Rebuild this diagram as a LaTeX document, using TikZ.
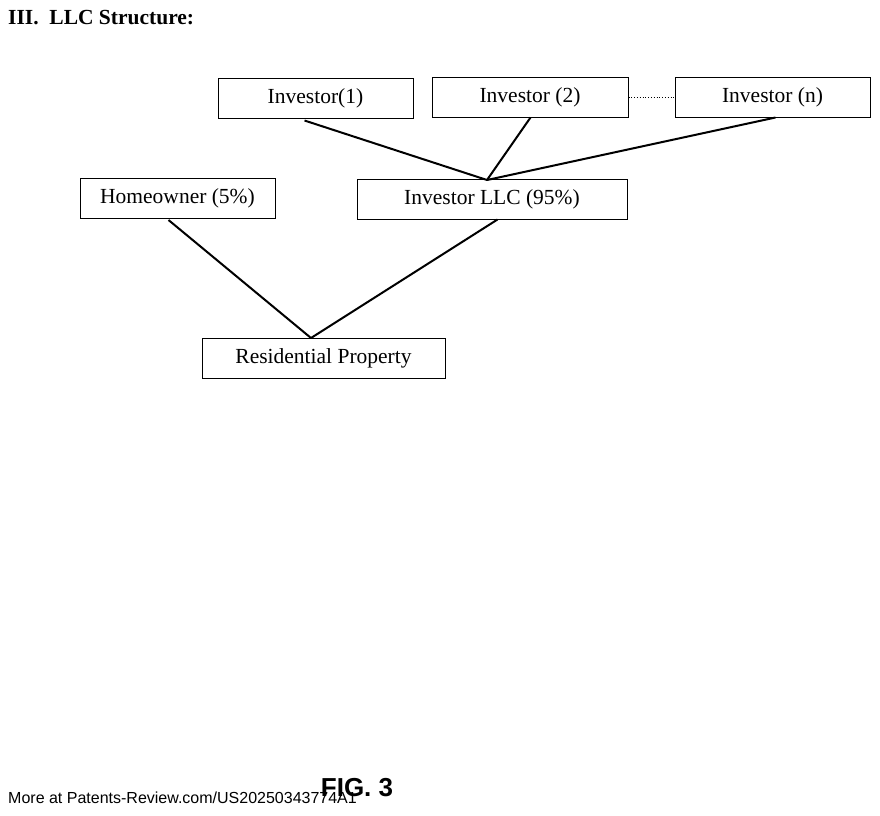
\documentclass[tikz,border=0pt]{standalone}
\usepackage{fontspec}
\setmainfont{Liberation Serif}
\setsansfont{Liberation Sans}
\begin{document}
\begin{tikzpicture}[x=1pt,y=-1pt,
  box/.style={draw,line width=1pt,minimum height=40pt,inner sep=0pt,font=\fontsize{21.5}{23}\selectfont},
  link/.style={line width=2pt}]
\useasboundingbox (0,0) rectangle (880,815);
\node[anchor=west,inner sep=0pt,font=\fontsize{21.5}{23}\selectfont\bfseries] (title) at (8,18) {III.\ \ LLC Structure:};
\node[box,minimum width=195pt] (i1) at (315.5,98) {Investor(1)};
\node[box,minimum width=196pt] (i2) at (530,97) {Investor (2)};
\node[box,minimum width=195pt] (in) at (772.5,97) {Investor (n)};
\node[box,minimum width=195pt] (home) at (177.5,198.5) {Homeowner (5\%)};
\node[box,minimum width=270pt] (llc) at (492,199) {Investor LLC (95\%)};
\node[box,minimum width=243pt] (res) at (323.5,358) {Residential Property};
\coordinate (top) at (487,180);
\coordinate (bot) at (311,338);
\draw[dotted,line width=0.8pt] (i2.east) -- (in.west);
\draw[link] (i1.south west) ++(87,2) -- (top);
\draw[link] (i2.south west) ++(99,0) -- (top);
\draw[link] (in.south west) ++(101,0) -- (top);
\draw[link] (home.south west) ++(89,1) -- (bot);
\draw[link] (llc.south west) ++(141,0) -- (bot);
\node[font=\sffamily\bfseries\fontsize{26}{28}\selectfont] (fig) at (357,788) {FIG. 3};
\node[anchor=west,inner sep=0pt,font=\sffamily\fontsize{16}{18}\selectfont] (more) at (8,798) {More at Patents-Review.com/US20250343774A1};
\end{tikzpicture}
\end{document}
